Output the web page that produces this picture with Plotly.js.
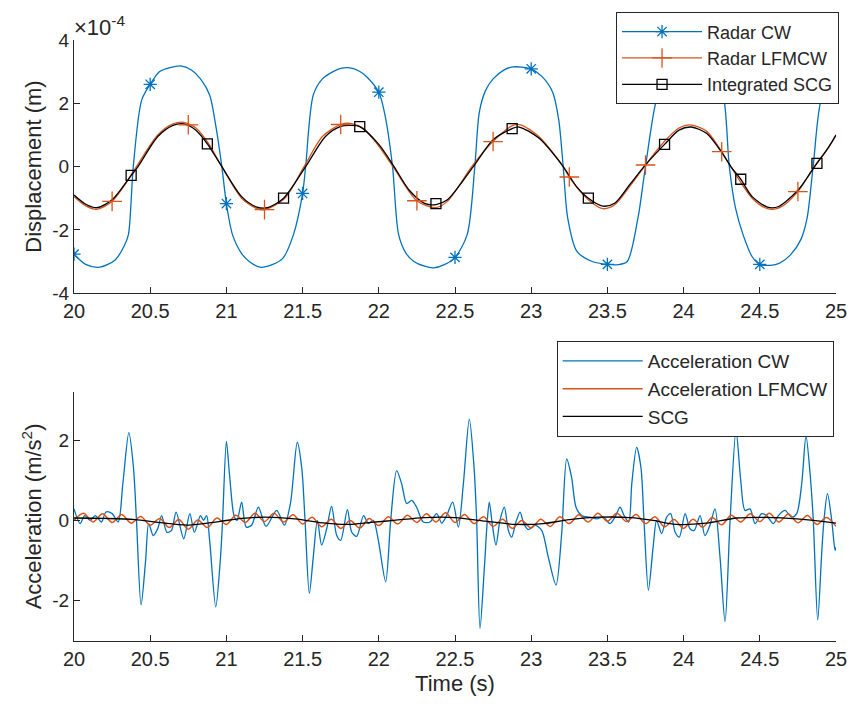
<!DOCTYPE html>
<html>
<head>
<meta charset="utf-8">
<script src="https://cdn.plot.ly/plotly-3.0.1.min.js"></script>
<style>html,body{margin:0;padding:0;background:#fff;}#chart{width:852px;height:708px;}</style>
</head>
<body>
<div id="chart"></div>
<script>
// ---------- Displacement (units of 1e-4 m) ----------
const tDispCW = [20.0,20.08,20.17,20.27,20.33,20.357,20.389,20.444,20.5,20.56,20.63,20.7,20.77,20.83,20.89,20.93,20.97,21.0,21.04,21.1,21.15,21.22,21.3,21.37,21.44,21.5,21.52,21.57,21.63,21.7,21.75,21.81,21.87,21.92,22.0,22.04,22.09,22.13,22.18,22.23,22.3,22.36,22.43,22.5,22.58,22.63,22.66,22.7,22.75,22.82,22.88,22.94,23.0,23.07,23.14,23.18,23.21,23.24,23.3,23.4,23.5,23.57,23.63,23.7,23.75,23.83,23.9,24.0,24.12,24.22,24.26,24.3,24.34,24.39,24.45,24.5,24.57,24.63,24.7,24.77,24.81,24.85,24.91,25.0];
const dispCW  = [-2.77,-3.1,-3.18,-2.95,-2.5,-2.15,0.0,2.1,2.6,3.0,3.13,3.18,3.05,2.77,2.26,1.3,0.0,-1.17,-2.15,-2.75,-3.0,-3.18,-3.1,-2.9,-2.15,-0.85,0.0,2.26,2.77,3.0,3.1,3.12,3.02,2.84,2.35,1.64,0.0,-2.15,-2.75,-3.0,-3.15,-3.2,-3.1,-2.87,-2.15,0.0,1.73,2.4,2.77,3.05,3.15,3.14,3.09,2.85,2.36,1.5,0.0,-1.64,-2.68,-3.0,-3.09,-3.1,-3.0,-1.64,0.0,2.26,2.85,3.05,2.95,2.6,2.26,0.0,-1.3,-2.15,-2.85,-3.09,-3.12,-3.05,-2.8,-2.3,-1.64,0.0,2.26,2.88];

const tDispLF = [20.0,20.08,20.15,20.25,20.33,20.41,20.55,20.65,20.72,20.8,20.88,20.97,21.1,21.2,21.25,21.38,21.51,21.63,21.75,21.82,21.9,22.0,22.1,22.25,22.37,22.45,22.61,22.75,22.88,22.93,23.05,23.21,23.25,23.375,23.47,23.55,23.65,23.75,23.875,23.97,24.04,24.15,24.25,24.31,24.45,24.55,24.63,24.75,24.85,24.95,25.0];
const dispLF  = [-0.95,-1.25,-1.35,-1.1,-0.6,0.0,1.0,1.35,1.4,1.22,0.75,0.0,-1.0,-1.33,-1.36,-1.02,0.0,0.95,1.33,1.36,1.2,0.65,-0.05,-1.08,-1.3,-1.1,0.0,0.8,1.3,1.32,0.95,0.0,-0.33,-1.05,-1.33,-1.2,-0.6,0.05,0.8,1.22,1.32,1.12,0.47,0.0,-1.0,-1.33,-1.3,-0.79,-0.05,0.6,0.98];

const tDispSCG = [20.0,20.08,20.15,20.25,20.375,20.42,20.55,20.65,20.72,20.8,20.875,20.97,21.1,21.2,21.27,21.375,21.52,21.65,21.75,21.82,21.875,22.0,22.1,22.2,22.3,22.375,22.45,22.62,22.75,22.875,22.92,23.05,23.21,23.3,23.375,23.47,23.55,23.65,23.74,23.875,23.97,24.05,24.15,24.25,24.31,24.375,24.45,24.55,24.62,24.75,24.86,24.95,25.0];
const dispSCG  = [-0.9,-1.2,-1.3,-1.05,-0.28,0.0,0.95,1.3,1.35,1.15,0.72,0.0,-0.95,-1.28,-1.3,-1.0,0.0,0.95,1.27,1.3,1.26,0.7,0.0,-0.75,-1.16,-1.2,-1.05,0.0,0.85,1.2,1.25,0.9,0.0,-0.65,-1.0,-1.25,-1.15,-0.55,0.0,0.7,1.15,1.25,1.05,0.45,0.0,-0.4,-0.95,-1.28,-1.27,-0.75,0.0,0.6,1.0];

// marker samples
const mkTimeCW  = [20,20.5,21,21.5,22,22.5,23,23.5,24,24.5,25];
const mkCW      = [-2.77,2.6,-1.17,-0.85,2.35,-2.87,3.09,-3.09,3.05,-3.09,2.88];
const mkTimeLF  = [20.25,20.75,21.25,21.75,22.25,22.75,23.25,23.75,24.25,24.75];
const mkLF      = [-1.1,1.32,-1.36,1.33,-1.08,0.79,-0.33,0.05,0.47,-0.79];
const mkTimeSCG = [20.375,20.875,21.375,21.875,22.375,22.875,23.375,23.875,24.375,24.875];
const mkSCG     = [-0.28,0.72,-1.0,1.26,-1.17,1.2,-1.0,0.7,-0.4,0.1];

// ---------- Acceleration (m/s^2) ----------
const tAccCW = [20.0,20.04,20.07,20.105,20.14,20.18,20.21,20.25,20.29,20.32,20.36,20.39,20.41,20.44,20.47,20.49,20.52,20.55,20.575,20.61,20.64,20.67,20.72,20.76,20.79,20.83,20.85,20.87,20.89,20.93,20.96,20.975,21.0,21.02,21.05,21.07,21.1,21.13,21.165,21.21,21.26,21.33,21.38,21.42,21.465,21.494,21.516,21.544,21.57,21.597,21.625,21.658,21.69,21.724,21.75,21.794,21.822,21.855,21.9,21.931,21.964,21.997,22.045,22.078,22.117,22.15,22.183,22.216,22.248,22.292,22.336,22.38,22.413,22.445,22.485,22.522,22.555,22.594,22.625,22.642,22.664,22.693,22.712,22.725,22.747,22.769,22.795,22.824,22.85,22.872,22.9,22.927,22.952,22.981,23.025,23.069,23.112,23.163,23.2,23.233,23.265,23.294,23.331,23.386,23.43,23.473,23.517,23.55,23.583,23.61,23.64,23.66,23.692,23.72,23.74,23.769,23.8,23.823,23.856,23.889,23.915,23.944,23.972,24.01,24.042,24.07,24.108,24.14,24.173,24.206,24.239,24.272,24.305,24.344,24.375,24.403,24.436,24.469,24.512,24.545,24.589,24.622,24.665,24.709,24.742,24.775,24.803,24.83,24.851,24.88,24.906,24.921,24.944,24.972,24.994,25.0];
const accCW  = [0.29,-0.08,0.12,0.0,0.12,-0.04,0.21,0.17,-0.04,0.9,2.2,1.33,0.0,-2.12,-1.0,-0.08,-0.38,-0.2,0.12,-0.3,-0.25,0.21,-0.46,0.17,-0.3,0.12,0.0,0.12,-0.5,-2.17,-1.0,0.0,1.98,1.17,0.12,0.0,0.46,-0.17,-0.12,0.33,-0.15,0.25,-0.12,0.42,1.96,1.33,0.0,-1.83,-0.92,0.0,-0.62,-0.21,0.35,-0.38,-0.5,0.27,-0.29,-0.4,0.12,-0.08,0.0,-0.5,-1.54,0.0,1.25,0.92,0.42,0.5,0.33,-0.04,-0.04,0.17,-0.07,0.12,0.46,-0.17,0.92,2.54,1.33,0.0,-2.71,-1.17,0.0,0.46,-0.17,-0.62,0.0,0.33,-0.25,-0.42,-0.04,0.21,-0.08,-0.23,-0.12,-0.25,-0.92,-1.62,-0.33,1.54,1.08,0.33,0.12,0.08,0.04,0.08,-0.08,0.08,0.33,0.12,-0.04,0.92,1.83,1.33,0.0,-1.75,-0.67,0.0,-0.33,0.08,0.17,-0.29,-0.42,0.17,-0.21,-0.25,0.12,-0.38,-0.12,0.29,-0.92,-2.54,0.0,2.25,1.0,0.25,0.29,-0.08,0.17,0.12,-0.08,0.12,0.25,0.08,0.17,0.92,2.12,1.17,0.0,-2.5,-0.83,0.0,0.67,0.0,-0.75,-0.67];

const tAccLF = [20.0,20.0625,20.125,20.1875,20.25,20.3125,20.375,20.4375,20.5,20.5625,20.625,20.6875,20.75,20.8125,20.875,20.9375,21.0,21.0625,21.125,21.1875,21.25,21.3125,21.375,21.4375,21.5,21.5625,21.625,21.6875,21.75,21.8125,21.875,21.9375,22.0,22.0625,22.125,22.1875,22.25,22.3125,22.375,22.4375,22.5,22.5625,22.625,22.6875,22.75,22.8125,22.875,22.9375,23.0,23.0625,23.125,23.1875,23.25,23.3125,23.375,23.4375,23.5,23.5625,23.625,23.6875,23.75,23.8125,23.875,23.9375,24.0,24.0625,24.125,24.1875,24.25,24.3125,24.375,24.4375,24.5,24.5625,24.625,24.6875,24.75,24.8125,24.875,24.9375,25.0];
const accLF  = [0.0,0.18,-0.04,0.17,-0.05,0.15,-0.07,0.1,-0.12,0.05,-0.18,0.02,-0.22,0.01,-0.18,0.06,-0.1,0.13,-0.05,0.18,-0.03,0.18,-0.04,0.14,-0.09,0.08,-0.16,0.03,-0.2,0.0,-0.19,0.05,-0.13,0.09,-0.09,0.13,-0.05,0.17,-0.04,0.19,-0.05,0.15,-0.08,0.09,-0.15,0.03,-0.2,0.0,-0.19,0.03,-0.15,0.09,-0.08,0.14,-0.04,0.18,-0.02,0.18,-0.03,0.15,-0.08,0.09,-0.16,0.02,-0.2,0.03,-0.17,0.07,-0.11,0.13,-0.04,0.17,-0.03,0.18,-0.04,0.16,-0.06,0.12,-0.1,0.07,-0.15];

const tAccSCG = [20.0,20.2,20.4,20.55,20.75,20.95,21.1,21.25,21.45,21.65,21.8,21.95,22.1,22.3,22.5,22.7,22.9,23.08,23.25,23.45,23.65,23.8,23.95,24.15,24.35,24.6,24.8,25.0];
const accSCG  = [0.06,0.05,0.02,-0.05,-0.12,-0.03,0.05,0.08,0.04,-0.07,-0.1,-0.05,0.0,0.07,0.07,-0.02,-0.1,-0.08,0.02,0.08,0.07,0.0,-0.1,-0.07,0.06,0.07,0.02,-0.07];

// ticks
const xTicks = [20,20.5,21,21.5,22,22.5,23,23.5,24,24.5,25];
const xTickText = ['20','20.5','21','21.5','22','22.5','23','23.5','24','24.5','25'];
const yTicksTop = [-4,-2,0,2,4];
const yTicksBot = [-2,0,2];

const names1 = ['Radar CW','Radar LFMCW','Integrated SCG'];
const names2 = ['Acceleration CW','Acceleration LFMCW','SCG'];

// ---------- styles ----------
const C_BLUE = '#0072BD', C_ORANGE = '#D95319', C_BLACK = '#000000';
const TXT = '#262626';
const FONT = 'Liberation Sans, Arial, Helvetica, sans-serif';
const LW = 1.3;

const traces = [
  {x:tDispCW, y:dispCW, xaxis:'x', yaxis:'y', mode:'lines', line:{color:C_BLUE,width:LW,shape:'spline',smoothing:0.8}, showlegend:false, hoverinfo:'skip'},
  {x:tDispLF, y:dispLF, xaxis:'x', yaxis:'y', mode:'lines', line:{color:C_ORANGE,width:LW,shape:'spline',smoothing:0.8}, showlegend:false, hoverinfo:'skip'},
  {x:tDispSCG, y:dispSCG, xaxis:'x', yaxis:'y', mode:'lines', line:{color:C_BLACK,width:LW,shape:'spline',smoothing:0.8}, showlegend:false, hoverinfo:'skip'},
  {x:mkTimeCW, y:mkCW, xaxis:'x', yaxis:'y', mode:'markers', marker:{symbol:'asterisk-open',size:11,color:C_BLUE,line:{color:C_BLUE,width:1.3}}, showlegend:false, hoverinfo:'skip'},
  {x:mkTimeLF, y:mkLF, xaxis:'x', yaxis:'y', mode:'markers', marker:{symbol:'cross-thin-open',size:14,color:C_ORANGE,line:{color:C_ORANGE,width:1.3}}, showlegend:false, hoverinfo:'skip'},
  {x:mkTimeSCG, y:mkSCG, xaxis:'x', yaxis:'y', mode:'markers', marker:{symbol:'square-open',size:10,color:C_BLACK,line:{color:C_BLACK,width:1.3}}, showlegend:false, hoverinfo:'skip'},
  // legend entries for top plot
  {x:[null], y:[null], xaxis:'x', yaxis:'y', mode:'lines+markers', name:names1[0], legend:'legend', line:{color:C_BLUE,width:LW}, marker:{symbol:'asterisk-open',size:11,color:C_BLUE,line:{color:C_BLUE,width:1.3}}},
  {x:[null], y:[null], xaxis:'x', yaxis:'y', mode:'lines+markers', name:names1[1], legend:'legend', line:{color:C_ORANGE,width:LW}, marker:{symbol:'cross-thin-open',size:14,color:C_ORANGE,line:{color:C_ORANGE,width:1.3}}},
  {x:[null], y:[null], xaxis:'x', yaxis:'y', mode:'lines+markers', name:names1[2], legend:'legend', line:{color:C_BLACK,width:LW}, marker:{symbol:'square-open',size:10,color:C_BLACK,line:{color:C_BLACK,width:1.3}}},
  // bottom plot
  {x:tAccCW, y:accCW, xaxis:'x2', yaxis:'y2', mode:'lines', name:names2[0], legend:'legend2', line:{color:C_BLUE,width:LW,shape:'spline',smoothing:0.8}},
  {x:tAccLF, y:accLF, xaxis:'x2', yaxis:'y2', mode:'lines', name:names2[1], legend:'legend2', line:{color:C_ORANGE,width:1.5,shape:'spline',smoothing:0.9}},
  {x:tAccSCG, y:accSCG, xaxis:'x2', yaxis:'y2', mode:'lines', name:names2[2], legend:'legend2', line:{color:C_BLACK,width:LW,shape:'spline',smoothing:0.9}}
];

const axisBase = {
  showline:true, linecolor:TXT, linewidth:1, mirror:false,
  ticks:'inside', ticklen:6, tickwidth:1, tickcolor:TXT,
  showgrid:false, zeroline:false, fixedrange:true
};

const layout = {
  width:852, height:708,
  margin:{l:74, r:16, t:38, b:67},
  paper_bgcolor:'#ffffff', plot_bgcolor:'#ffffff',
  font:{family:FONT, color:TXT, size:19},
  xaxis:Object.assign({}, axisBase, {domain:[0,1], anchor:'y', range:[20,25], tickvals:xTicks, ticktext:xTickText, tickfont:{size:20, color:TXT}}),
  yaxis:Object.assign({}, axisBase, {domain:[0.5788,1], anchor:'x', range:[-4,4], tickvals:yTicksTop, ticktext:yTicksTop.map(String), tickfont:{size:19, color:TXT},
    title:{text:'Displacement (m)', font:{size:22, color:TXT}, standoff:4}}),
  xaxis2:Object.assign({}, axisBase, {domain:[0,1], anchor:'y2', range:[20,25], tickvals:xTicks, ticktext:xTickText, tickfont:{size:20, color:TXT},
    title:{text:'Time (s)', font:{size:22, color:TXT}, standoff:6}}),
  yaxis2:Object.assign({}, axisBase, {domain:[0,0.4146], anchor:'x2', range:[-3.025,3.225], tickvals:yTicksBot, ticktext:yTicksBot.map(String), tickfont:{size:19, color:TXT},
    title:{text:'Acceleration (m/s<sup>2</sup>)', font:{size:22, color:TXT}, standoff:4}}),
  legend:{x:1.004, xanchor:'right', y:1.046, yanchor:'top', bgcolor:'#ffffff', bordercolor:TXT, borderwidth:1,
    font:{size:18, color:TXT, family:FONT}, itemwidth:80, tracegroupgap:0, traceorder:'normal'},
  legend2:{x:0.997, xanchor:'right', y:0.499, yanchor:'top', bgcolor:'#ffffff', bordercolor:TXT, borderwidth:1,
    font:{size:19, color:TXT, family:FONT}, itemwidth:80, tracegroupgap:0, traceorder:'normal'},
  annotations:[{xref:'paper', yref:'paper', x:-0.003, y:0.997, xanchor:'left', yanchor:'bottom', showarrow:false,
    text:'\u00d710<sup>-4</sup>', font:{size:22, color:TXT, family:FONT}}],
  showlegend:true
};

Plotly.newPlot('chart', traces, layout, {displayModeBar:false, staticPlot:true});
</script>
</body>
</html>
